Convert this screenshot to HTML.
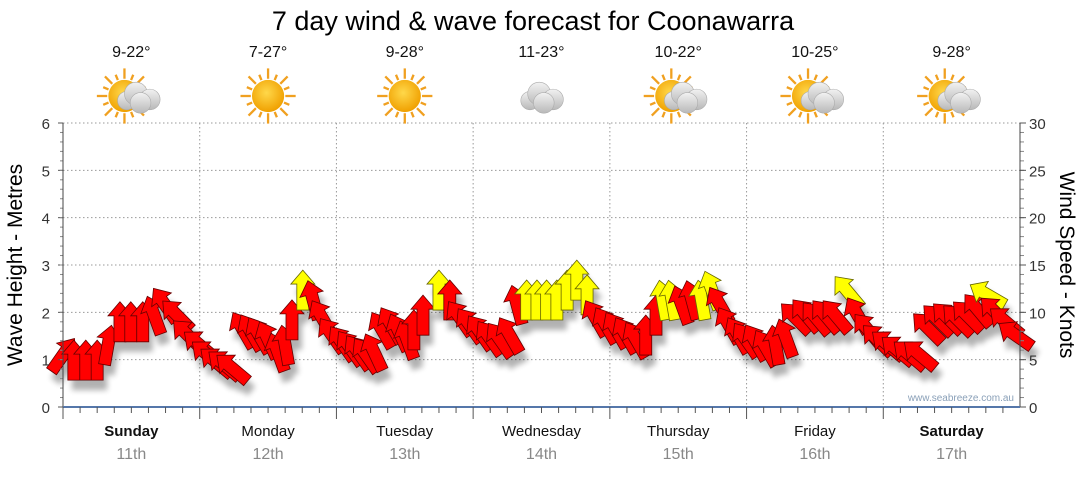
<!DOCTYPE html>
<html><head><meta charset="utf-8"><style>
body{margin:0;background:#fff;width:1080px;height:475px;overflow:hidden;font-family:"Liberation Sans",sans-serif}
svg text{font-family:"Liberation Sans",sans-serif}
</style></head><body>
<svg id="chart" width="1080" height="475" viewBox="0 0 1080 475" xmlns="http://www.w3.org/2000/svg">
<defs>
<filter id="sh" x="-50%" y="-50%" width="200%" height="200%"><feGaussianBlur stdDeviation="3"/></filter>
<radialGradient id="sun" cx="0.45" cy="0.4" r="0.6"><stop offset="0" stop-color="#ffd84a"/><stop offset="1" stop-color="#f0a000"/></radialGradient>
<linearGradient id="cloud" x1="0" y1="0" x2="0" y2="1"><stop offset="0" stop-color="#f2f2f2"/><stop offset="1" stop-color="#b8b8b8"/></linearGradient>
</defs>
<text x="533" y="30" font-size="27" text-anchor="middle" fill="#000">7 day wind &amp; wave forecast for Coonawarra</text>
<g id="grid"></g>
<g id="shadows" filter="url(#sh)" opacity="0.3"></g>
<g id="arrows"></g>
<g id="axes"></g>
<g id="days"></g>
<text transform="translate(22,265) rotate(-90)" font-size="21" text-anchor="middle">Wave Height - Metres</text>
<text transform="translate(1060,265) rotate(90)" font-size="21" text-anchor="middle">Wind Speed - Knots</text>
<text x="1014" y="401" font-size="10" text-anchor="end" fill="#8aa0b8">www.seabreeze.com.au</text>
</svg>
<script>
const dayNames=["Sunday","Monday","Tuesday","Wednesday","Thursday","Friday","Saturday"];
const dayDates=["11th","12th","13th","14th","15th","16th","17th"];
const temps=["9-22°","7-27°","9-28°","11-23°","10-22°","10-25°","9-28°"];
const icons=["suncloud","sun","sun","cloud","suncloud","suncloud","suncloud"];
const leftTicks=[0,1,2,3,4,5,6];
const rightTicks=[0,5,10,15,20,25,30];
const hours=[0,1.9,4,6,7.9,10,11.9,14,16,17.9,20,21.9,24,25.4,26.9,28.3,29.7,31.6,33,34.4,36,37.7,39,40.2,42.1,43.9,45.5,47.2,49,50.4,51.8,53.2,54.6,56,57.6,59,60.4,61.6,63.2,66,67.9,69.7,71.4,73.2,74.9,76.7,78.4,79.7,81.4,83.2,84.9,86.7,88.5,90.2,92,93.5,95.3,97.1,98.8,100.6,102.3,104.1,105.3,106.9,108.6,110.4,112.1,113.9,115.3,116.9,118.5,119.9,121.6,123.4,125.1,126.9,128.6,130.4,132.2,133.9,135.7,137.8,139.5,141.3,143,144.8,146.5,148.6,150.4,151.8,153.6,155.3,157.1,158.8,160.6,162.3,163.7,165.5,167.2];
const heights=[1.1,0.99,0.99,0.99,1.31,1.8,1.8,1.8,1.94,2.16,1.94,1.52,1.31,1.1,0.95,0.89,0.82,1.63,1.58,1.52,1.42,1.16,1.31,1.84,2.47,2.26,1.88,1.52,1.35,1.25,1.16,1.1,1.16,1.63,1.73,1.58,1.42,1.63,1.94,2.47,2.26,1.88,1.73,1.58,1.46,1.42,1.52,2.16,2.26,2.26,2.26,2.26,2.47,2.68,2.37,1.88,1.73,1.63,1.52,1.42,1.52,1.94,2.26,2.26,2.16,2.26,2.26,2.47,2.16,1.73,1.52,1.42,1.37,1.25,1.31,1.46,1.88,1.94,1.88,1.92,1.92,2.43,1.94,1.63,1.42,1.31,1.2,1.1,1.1,1.67,1.84,1.88,1.84,1.92,2.05,2.37,2.0,1.8,1.52];
const directions=[35,0,0,0,10,0,0,0,-20,-35,-45,-45,-50,-50,-50,-50,-50,-30,-30,-30,-25,-20,-10,0,0,-15,-30,-35,-35,-35,-35,-35,-25,-30,-30,-25,-20,0,0,0,0,-35,-35,-35,-35,-35,-30,-15,0,0,0,0,0,0,0,-30,-30,-30,-30,-30,0,0,-10,-10,-20,-15,-10,-20,-30,-30,-30,-35,-30,-30,-10,-20,-45,-40,-40,-40,-40,-40,-30,-40,-45,-50,-50,-50,-50,-45,-45,-45,-45,-45,-40,-60,-45,-50,-55];
const windSpeeds=[10,10,10,10,11,11,11,11,12,12,11,10,10,9,9,9,9,11,11,11,11,10,11,12,15,13,12,11,10,10,10,10,10,11,12,11,11,12,13,15,13,12,11,11,10,10,10,12,15,15,15,15,16,17,15,12,11,11,10,10,11,12,15,15,13,13,15,16,13,12,11,10,10,9,10,11,12,12,12,12,12,15,12,11,10,10,9,9,9,11,12,12,12,12,12,15,12,11,10];
const NS="http://www.w3.org/2000/svg";
const X0=63,X1=1020,Y0=407,Y6=123;
const xS=h=>X0+h/168*(X1-X0);
const yS=m=>Y0-m/6*(Y0-Y6);
function mk(tag,attrs,parent){const e=document.createElementNS(NS,tag);for(const k in attrs)e.setAttribute(k,attrs[k]);parent.appendChild(e);return e;}
const grid=document.getElementById('grid'),axes=document.getElementById('axes'),days=document.getElementById('days');
leftTicks.forEach(v=>{if(v>0){const l=mk('line',{x1:X0,x2:X1,y1:yS(v),y2:yS(v),stroke:'#999','stroke-dasharray':'1.5,2.5'},grid);

}
const t=mk('text',{x:50,y:yS(v)+6,'font-size':15,'text-anchor':'end',fill:'#333'},axes);t.textContent=v;


mk('line',{x1:X0-5,x2:X0,y1:yS(v),y2:yS(v),stroke:'#555'},axes);});
for(let i=1;i<30;i++){const y=Y0-i*(Y0-Y6)/30;mk('line',{x1:X0-3,x2:X0,y1:y,y2:y,stroke:'#888'},axes);mk('line',{x1:X1,x2:X1+4,y1:y,y2:y,stroke:'#888'},axes);}
rightTicks.forEach(v=>{const y=Y0-v/30*(Y0-Y6);const t=mk('text',{x:1029,y:y+6,'font-size':15,fill:'#333'},axes);t.textContent=v;


mk('line',{x1:X1,x2:X1+6,y1:y,y2:y,stroke:'#555'},axes);});
mk('line',{x1:X0,x2:X0,y1:Y6,y2:Y0,stroke:'#444'},axes);
mk('line',{x1:X1,x2:X1,y1:Y6,y2:Y0,stroke:'#444'},axes);
mk('line',{x1:X0,x2:X1,y1:Y0,y2:Y0,stroke:'#5577aa','stroke-width':2},axes);
for(let d=0;d<7;d++){
 if(d>0){const l=mk('line',{x1:xS(d*24),x2:xS(d*24),y1:Y6,y2:Y0,stroke:'#999','stroke-dasharray':'1.5,2.5'},grid);
 
 }
 for(let k=0;k<8;k++){const x=xS(d*24+k*3);mk('line',{x1:x,x2:x,y1:Y0,y2:Y0+(k==0?12:6),stroke:'#555'},axes);}
 const cx=xS(d*24+12);
 const n=mk('text',{x:cx,y:436,'font-size':15,'text-anchor':'middle','font-weight':(d==0||d==6)?'bold':'normal',fill:'#111'},days);n.textContent=dayNames[d];
 
 
 const dt=mk('text',{x:cx,y:459,'font-size':16,'text-anchor':'middle',fill:'#888'},days);dt.textContent=dayDates[d];
 
 
 const tt=mk('text',{x:cx,y:57,'font-size':16,'text-anchor':'middle',fill:'#111'},days);tt.textContent=temps[d];
 
 
 const g=mk('g',{transform:`translate(${cx},96) scale(1.15)`},days);
 
 
 const ic=icons[d];
 if(ic!=='cloud'){const sx=ic==='sun'?0:-6;
  for(let r=0;r<16;r++){const a=r*Math.PI/8;mk('line',{x1:sx+Math.cos(a)*15,y1:Math.sin(a)*15,x2:sx+Math.cos(a)*(r%2?20:24),y2:Math.sin(a)*(r%2?20:24),stroke:'#f0a020','stroke-width':2},g);}
  mk('circle',{cx:sx,cy:0,r:14,fill:'url(#sun)'},g);}
 if(ic!=='sun'){const ox=ic==='cloud'?0:6;
  [[ox-10,4,8],[ox-2,-2,10],[ox+10,3,9],[ox+2,6,9]].forEach(c=>mk('circle',{cx:c[0],cy:c[1],r:c[2],fill:'url(#cloud)',stroke:'#aaa','stroke-width':0.5},g));}
}
const arrowPath="M0,-20 L12,-6 L6,-6 L6,20 L-6,20 L-6,-6 L-12,-6 Z";
const sg=document.getElementById('shadows'),ag=document.getElementById('arrows');
hours.forEach((h,i)=>{
 const x=xS(h),y=yS(heights[i]);
 mk('path',{d:arrowPath,fill:'#000',transform:`translate(${x+4},${y+10}) rotate(${directions[i]})`},sg);
 const yel=windSpeeds[i]>=14;
 const p=mk('path',{d:arrowPath,fill:yel?'#ffff00':'#ff0000',stroke:yel?'#666600':'#660000','stroke-width':0.8,transform:`translate(${x},${y}) rotate(${directions[i]})`},ag);
 
 
});
</script>
</body></html>
